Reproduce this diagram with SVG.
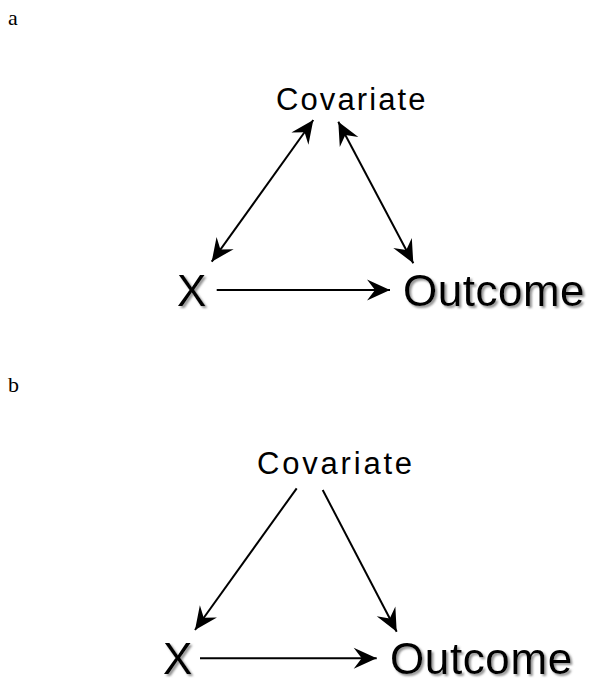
<svg xmlns="http://www.w3.org/2000/svg" width="596" height="682" viewBox="0 0 596 682">
<style>
.lbl{font-family:"Liberation Serif","Times New Roman",serif;font-size:22px;fill:#000}
.cov{font-family:"Liberation Sans",Arial,sans-serif;font-size:31px;fill:#000}
.big{font-family:"Liberation Sans",Arial,sans-serif;font-size:44px;fill:#000;filter:url(#sh)}
.edge{stroke:#000;stroke-width:2;fill:none}
</style>
<defs>
<filter id="sh" x="-10%" y="-20%" width="130%" height="150%">
<feGaussianBlur in="SourceAlpha" stdDeviation="1.2" result="b"/>
<feOffset in="b" dx="2" dy="2" result="o"/>
<feFlood flood-color="#777" flood-opacity="0.8"/>
<feComposite in2="o" operator="in" result="s"/>
<feMerge><feMergeNode in="s"/><feMergeNode in="SourceGraphic"/></feMerge>
</filter>
<marker id="ah" viewBox="-24 -11 26 22" refX="0" refY="0" markerWidth="26" markerHeight="22" markerUnits="userSpaceOnUse" orient="auto-start-reverse">
<path d="M0,0 L-23,-10.5 L-15,0 L-23,10.5 Z" fill="#000"/>
</marker>
</defs>
<text class="lbl" x="8" y="25">a</text>
<text class="lbl" x="8" y="392">b</text>
<g id="connectors">
<line class="edge" x1="211.7" y1="261.7" x2="313.3" y2="120" marker-start="url(#ah)" marker-end="url(#ah)"/>
<line class="edge" x1="338.3" y1="121.7" x2="413.3" y2="263.3" marker-start="url(#ah)" marker-end="url(#ah)"/>
<line class="edge" x1="216.7" y1="290" x2="390" y2="290" marker-end="url(#ah)"/>
<line class="edge" x1="296.7" y1="488.3" x2="195" y2="630" marker-end="url(#ah)"/>
<line class="edge" x1="322.7" y1="490" x2="396.7" y2="631.7" marker-end="url(#ah)"/>
<line class="edge" x1="200" y1="658.3" x2="376.7" y2="658.3" marker-end="url(#ah)"/>
</g>
<g id="a-covariate"><text class="cov" x="276" y="110" letter-spacing="2.1">Covariate</text></g>
<g id="a-x"><text class="big" x="177" y="306">X</text></g>
<g id="a-outcome"><text class="big" x="403" y="306" letter-spacing="0.5">Outcome</text></g>
<g id="b-covariate"><text class="cov" x="257" y="474" letter-spacing="2.8">Covariate</text></g>
<g id="b-x"><text class="big" x="163" y="674">X</text></g>
<g id="b-outcome"><text class="big" x="390" y="674" letter-spacing="0.6">Outcome</text></g>
</svg>
